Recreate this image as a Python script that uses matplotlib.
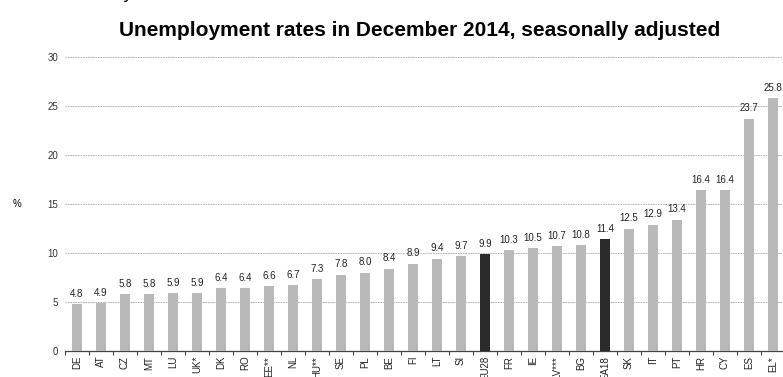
import matplotlib.pyplot as plt
import numpy as np

countries = ["DE", "AT", "CZ", "MT", "LU", "UK*", "DK", "RO", "EE**", "NL",
             "HU**", "SE", "PL", "BE", "FI", "LT", "SI", "EU28", "FR", "IE",
             "LV***", "BG", "EA18", "SK", "IT", "PT", "HR", "CY", "ES", "EL*"]
rates = [4.8, 4.9, 5.8, 5.8, 5.9, 5.9, 6.4, 6.4, 6.6, 6.7,
         7.3, 7.8, 8.0, 8.4, 8.9, 9.4, 9.7, 9.9, 10.3, 10.5,
         10.7, 10.8, 11.4, 12.5, 12.9, 13.4, 16.4, 16.4, 23.7, 25.8]
aggregates = ["EU28", "EA18"]
yticks = [0, 5, 10, 15, 20, 25, 30]

plt.rcParams["font.family"] = ["Liberation Sans", "DejaVu Sans"]

fig = plt.figure(figsize=(7.83, 3.77), dpi=100)
W, H = 783, 377
ax = fig.add_axes([65 / W, 1 - 351 / H, 720 / W, (351 - 57) / H])

x = np.arange(len(countries))
colors = ["#2b2b2b" if c in aggregates else "#b9b9b9" for c in countries]
ax.bar(x, rates, width=0.42, color=colors, zorder=3)

for xi, v in zip(x, rates):
    ax.text(xi, v + 0.55, f"{v:.1f}", ha="center", va="bottom", fontsize=7,
            color="#222222", zorder=4)

ax.set_xlim(-0.5, len(countries) - 0.5)
ax.set_ylim(0, 30)
ax.set_yticks(yticks)
ax.set_yticklabels([str(t) for t in yticks], fontsize=7, color="#333333")
ax.set_xticks(x)
ax.set_xticklabels(countries, rotation=90, fontsize=7, color="#222222")
ax.set_xticks(np.arange(-0.5, len(countries)), minor=True)
ax.tick_params(axis="x", which="major", length=0, pad=3.5)
ax.tick_params(axis="x", which="minor", length=3, width=0.8, color="#444444")
ax.tick_params(axis="y", length=0, pad=5)

ax.grid(axis="y", linestyle=(0, (2, 1)), linewidth=0.6, color="#a8a8a8", zorder=0)
for s in ["top", "right", "left"]:
    ax.spines[s].set_visible(False)
ax.spines["bottom"].set_color("#444444")
ax.spines["bottom"].set_linewidth(0.9)

ax.set_ylabel("%", rotation=0, fontsize=7, labelpad=22, va="center")

fig.text(420 / W, 1 - 31 / H, "Unemployment rates in December 2014, seasonally adjusted",
         ha="center", va="center", fontsize=15, fontweight="bold",
         family=["Liberation Sans Narrow", "Liberation Sans", "DejaVu Sans"])
fig.text(124 / W, 1 + 7 / H, "y", ha="left", va="center", fontsize=13,
         style="italic", family=["Liberation Sans", "DejaVu Sans"])

fig.savefig("out.png", dpi=100)
